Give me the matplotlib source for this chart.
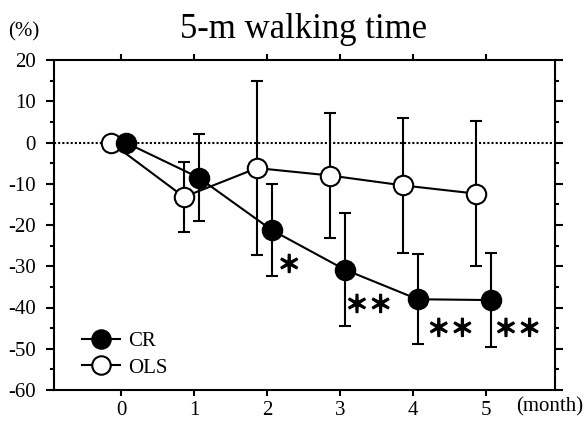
import matplotlib
matplotlib.use("Agg")
import matplotlib.pyplot as plt
import matplotlib.patheffects as pe
import numpy as np
from matplotlib.ticker import MultipleLocator

plt.rcParams['font.family'] = ['Liberation Serif', 'DejaVu Serif']
plt.rcParams['axes.unicode_minus'] = False

months = [0, 1, 2, 3, 4, 5]
cr_mean = [0.0, -8.5, -21.2, -30.8, -38.0, -38.2]
cr_sd = [0.0, 10.5, 11.2, 13.6, 10.9, 11.3]
ols_mean = [0.0, -13.2, -6.2, -8.0, -10.4, -12.4]
ols_sd = [0.0, 8.5, 21.0, 15.2, 16.4, 17.5]
sig_labels = ['＊', '＊＊', '＊＊', '＊＊']
sig_x = [2.30, 3.39, 4.51, 5.43]
sig_y = [-29.8, -39.5, -45.3, -45.3]
x_tick_labels = ['0', '1', '2', '3', '4', '5']

fig = plt.figure(figsize=(5.84, 4.25), dpi=100)
ax = fig.add_axes([54/584, 1-390/425, (555-54)/584, (390-60)/425])

xo = np.array(months) - 0.14
xc = np.array(months) + 0.06

ax.axhline(0, color='black', linestyle=(0, (1, 1)), linewidth=1.5, zorder=1)

ax.errorbar(xo, ols_mean, yerr=ols_sd, fmt='none', ecolor='black', elinewidth=1.5,
            capsize=4, capthick=1.5, zorder=2)
ax.errorbar(xc, cr_mean, yerr=cr_sd, fmt='none', ecolor='black', elinewidth=1.5,
            capsize=4, capthick=1.5, zorder=2)
ax.plot(xo, ols_mean, '-o', color='black', mfc='white', mec='black', ms=14, mew=1.5,
        linewidth=1.5, zorder=3, label='OLS')
ax.plot(xc, cr_mean, '-o', color='black', mfc='black', mec='black', ms=14, mew=1.5,
        linewidth=1.5, zorder=4, label='CR')

for s, x, y in zip(sig_labels, sig_x, sig_y):
    ax.text(x, y, s, ha='center', va='center', fontsize=17,
            fontfamily=['Noto Sans CJK JP'], fontweight='bold',
            path_effects=[pe.withStroke(linewidth=0.9, foreground='black')])

ax.set_xlim(-0.92, 5.94)
ax.set_ylim(-60, 20)
ax.set_xticks(months)
ax.set_xticklabels(x_tick_labels)
ax.yaxis.set_major_locator(MultipleLocator(10))
ax.yaxis.set_minor_locator(MultipleLocator(5))
ax.tick_params(axis='both', which='major', direction='out', length=6, width=1.5,
               labelsize=15, top=True, right=True, labeltop=False, labelright=False)
ax.tick_params(axis='y', which='minor', direction='out', length=3, width=1.5,
               left=True, right=True)
ax.tick_params(axis='y', which='major', pad=7)
ax.tick_params(axis='x', which='major', length=4, pad=4)
for sp in ax.spines.values():
    sp.set_linewidth(1.5)

handles, labels = ax.get_legend_handles_labels()
leg = ax.legend(handles[::-1], labels[::-1], loc='lower left', frameon=False, fontsize=15,
                handlelength=1.8, handletextpad=0.4, labelspacing=0.33,
                bbox_to_anchor=(0.04, 0.012), borderaxespad=0, markerscale=0.95)

fig.text(304/584, 0.93, '5-m walking time', ha='center', va='center', fontsize=25)
fig.text(24/584, 1-32/425, '(%)', ha='center', va='center', fontsize=15)
fig.text(550/584, 1-407/425, '(month)', ha='center', va='center', fontsize=15)

fig.savefig('out.png', dpi=100)
